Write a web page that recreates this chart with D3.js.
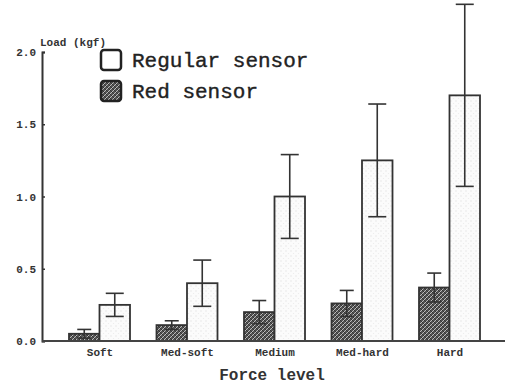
<!DOCTYPE html>
<html><head><meta charset="utf-8">
<script src="https://cdn.jsdelivr.net/npm/d3@7"></script>
<style>body{margin:0;background:#fff}svg{display:block}</style>
</head><body>
<svg id="c" width="509" height="386"></svg>
<script>
const categories = ["Soft", "Med-soft", "Medium", "Med-hard", "Hard"];
const series = ["Red sensor", "Regular sensor"];
const redValues = [0.05, 0.11, 0.20, 0.26, 0.37];
const redErrors = [0.03, 0.03, 0.08, 0.09, 0.10];
const regularValues = [0.25, 0.40, 1.00, 1.25, 1.70];
const regularErrors = [0.08, 0.16, 0.29, 0.39, 0.63];
const yTicks = [0, 0.5, 1.0, 1.5, 2.0];
const yTickLabels = ["0.0", "0.5", "1.0", "1.5", "2.0"];

const svg = d3.select("#c");
const mono = "'Liberation Mono', 'DejaVu Sans Mono', monospace";

const defs = svg.append("defs");
const hatch = defs.append("pattern").attr("id","hatch").attr("patternUnits","userSpaceOnUse")
  .attr("width",4).attr("height",4);
hatch.append("rect").attr("width",4).attr("height",4).attr("fill","#555");
hatch.append("path").attr("d","M0,4 L4,0 M-1,1 L1,-1 M3,5 L5,3").attr("stroke","#bbb").attr("stroke-width",1);
hatch.append("path").attr("d","M0,0 L4,4").attr("stroke","#2a2a2a").attr("stroke-width",0.8);
const dots = defs.append("pattern").attr("id","dots").attr("patternUnits","userSpaceOnUse")
  .attr("width",5).attr("height",5);
dots.append("rect").attr("width",5).attr("height",5).attr("fill","#fbfbfb");
dots.append("circle").attr("cx",1).attr("cy",1).attr("r",0.7).attr("fill","#e2e2e2");
dots.append("circle").attr("cx",3.5).attr("cy",3.5).attr("r",0.6).attr("fill","#ebebeb");

const x = d3.scalePoint().domain(categories).range([100, 450]);
const xs = d3.scaleBand().domain(series).range([-31, 30]);
const y = d3.scaleLinear().domain([0, 2]).range([341, 52]);

// bars
const data = [];
categories.forEach((c,i)=>{
  data.push({c, s:"Red sensor", v:redValues[i], e:redErrors[i]});
  data.push({c, s:"Regular sensor", v:regularValues[i], e:regularErrors[i]});
});
svg.append("g").selectAll("rect").data(data).join("rect")
  .attr("x", d=>x(d.c)+xs(d.s))
  .attr("y", d=>y(d.v))
  .attr("width", xs.bandwidth())
  .attr("height", d=>y(0)-y(d.v))
  .attr("fill", d=>d.s==="Red sensor" ? "url(#hatch)" : "url(#dots)")
  .attr("stroke", "#333").attr("stroke-width", 1.8);

// error bars
const eg = svg.append("g").attr("stroke","#333").attr("stroke-width",1.6);
data.forEach(d=>{
  const cx = x(d.c)+xs(d.s)+xs.bandwidth()/2;
  const cap = d.s==="Red sensor" ? 14 : 18;
  eg.append("line").attr("x1",cx).attr("x2",cx).attr("y1",y(d.v+d.e)).attr("y2",y(Math.max(0,d.v-d.e)));
  eg.append("line").attr("x1",cx-cap/2).attr("x2",cx+cap/2).attr("y1",y(d.v+d.e)).attr("y2",y(d.v+d.e));
  eg.append("line").attr("x1",cx-cap/2).attr("x2",cx+cap/2).attr("y1",y(Math.max(0,d.v-d.e))).attr("y2",y(Math.max(0,d.v-d.e)));
});

// y axis
const yAxis = d3.axisRight(y).tickValues(yTicks).tickSize(3).tickFormat("");
const ya = svg.append("g").attr("transform","translate(42,0)").call(yAxis);
ya.select(".domain").attr("stroke","#333").attr("stroke-width",2);
ya.selectAll(".tick line").attr("stroke","#333").attr("stroke-width",1.5);
svg.append("g").selectAll("text").data(yTicks).join("text")
  .attr("x", 36).attr("y", d=>y(d)+4).attr("text-anchor","end")
  .attr("font-family", mono).attr("font-size", 11).attr("font-weight","bold").attr("fill","#333")
  .text((d,i)=>yTickLabels[i]);

// x axis line
svg.append("line").attr("x1",42).attr("x2",505).attr("y1",y(0)).attr("y2",y(0))
  .attr("stroke","#444").attr("stroke-width",2);

// category labels
svg.append("g").selectAll("text").data(categories).join("text")
  .attr("x", d=>x(d)).attr("y", 356).attr("text-anchor","middle")
  .attr("font-family", mono).attr("font-size", 11).attr("font-weight","bold").attr("fill","#333")
  .text(d=>d);

// titles
svg.append("text").attr("x",40).attr("y",46).attr("font-family",mono).attr("font-size",11)
  .attr("font-weight","bold").attr("fill","#333").text("Load (kgf)");
svg.append("text").attr("x",272).attr("y",380).attr("text-anchor","middle").attr("font-family",mono)
  .attr("font-size",16).attr("font-weight","bold").attr("fill","#333").text("Force level");

// legend
const leg = [{s:"Regular sensor", f:"#fff", y:50},{s:"Red sensor", f:"url(#hatch)", y:81}];
leg.forEach(l=>{
  svg.append("rect").attr("x",101).attr("y",l.y).attr("width",20).attr("height",20).attr("rx",3)
    .attr("fill",l.f).attr("stroke","#222").attr("stroke-width",2.5);
  svg.append("text").attr("x",132).attr("y",l.y+17).attr("font-family",mono).attr("font-size",21)
    .attr("fill","#222").attr("stroke","#222").attr("stroke-width",0.4).text(l.s);
});
</script>
</body></html>
